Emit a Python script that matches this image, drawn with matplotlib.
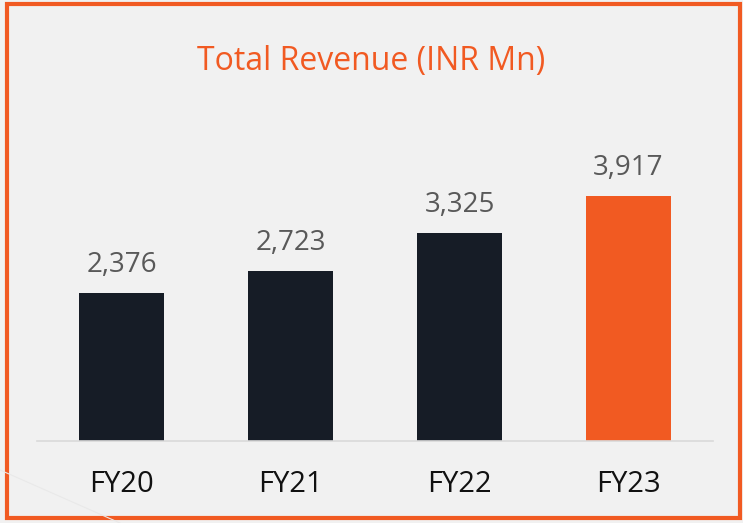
import matplotlib
matplotlib.use("Agg")
import matplotlib.pyplot as plt
from matplotlib.patches import Rectangle
from matplotlib.lines import Line2D

categories = ["FY20", "FY21", "FY22", "FY23"]
revenue = [2376, 2723, 3325, 3917]
value_labels = ["2,376", "2,723", "3,325", "3,917"]
title = "Total Revenue (INR Mn)"

W, H = 743, 523
fig = plt.figure(figsize=(W / 100, H / 100), dpi=100)
fig.patch.set_facecolor("#f1f1f1")

# faint decorative background lines
fig.add_artist(Line2D([0, 120 / W], [1 - 470 / H, 1 - 523 / H], transform=fig.transFigure,
                      color="#e9e9e9", lw=0.8))

# axes: x from 37 to 713 px, y baseline at 441 px, top at 100 px
ax_left, ax_right = 37, 713
ax_bottom, ax_top = 441, 100
ax = fig.add_axes([ax_left / W, 1 - ax_bottom / H, (ax_right - ax_left) / W, (ax_bottom - ax_top) / H])
ax.set_facecolor("none")
px_per_unit = 16.0
ax.set_ylim(0, (ax_bottom - ax_top) * px_per_unit)
ax.set_xlim(-0.5, len(categories) - 0.5)

colors = ["#161c26"] * (len(categories) - 1) + ["#f15a22"]
x = list(range(len(categories)))
ax.bar(x, revenue, width=0.5, color=colors, zorder=2)

for xi, v, lab in zip(x, revenue, value_labels):
    ax.annotate(lab, (xi, v), xytext=(0, 10), textcoords="offset points",
                ha="center", va="bottom", fontsize=20, color="#595959",
                family="Open Sans")

ax.set_xticks(x)
ax.set_xticklabels(categories, fontsize=21, color="#111111", family="Open Sans")
ax.tick_params(axis="x", length=0, pad=21)
ax.set_yticks([])
for s in ["top", "left", "right"]:
    ax.spines[s].set_visible(False)
ax.spines["bottom"].set_color("#d9d9d9")
ax.spines["bottom"].set_linewidth(1.2)

fig.text(0.5, 1 - 70 / H, title, ha="center", va="baseline", fontsize=23,
         color="#f15a22", family="Open Sans")

# orange border
fig.add_artist(Rectangle((7 / W, 1 - 518 / H), (740 - 7) / W, (518 - 3.5) / H,
                         transform=fig.transFigure, fill=False,
                         edgecolor="#f15a22", lw=3.0))

fig.savefig("out.png", dpi=100, facecolor=fig.get_facecolor())
